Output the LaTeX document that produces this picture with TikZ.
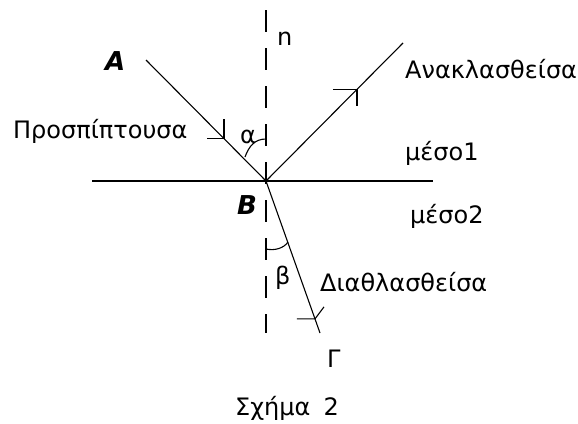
\documentclass[tikz,border=0pt]{standalone}
\usepackage{fontspec}
\setmainfont{DejaVu Sans}
\usetikzlibrary{calc}
\begin{document}
\begin{tikzpicture}[x=1pt,y=-1pt,
  lbl/.style={anchor=base west, inner sep=0pt, font=\fontsize{24}{28}\selectfont},
  ptlbl/.style={anchor=base west, inner sep=0pt, font=\fontsize{26}{30}\selectfont\bfseries\itshape},
  ray/.style={line width=1.1pt},
  head/.style={line width=1.1pt},
  normal/.style={line width=1.4pt, dash pattern=on 22pt off 16pt},
  surface/.style={line width=1.4pt}]
\useasboundingbox (0,0) rectangle (578,423);
% points
\coordinate (N1) at (266,10);
\coordinate (N2) at (266,333);
\coordinate (S1) at (92,181);
\coordinate (S2) at (433,181);
\coordinate (A) at (146,60);
\coordinate (B) at (266,181);
\coordinate (R) at (403,43);
\coordinate (G) at (320,333);
% surface and normal
\draw[surface] (S1) -- (S2);
\draw[normal] (N1) -- (N2);
% rays
\draw[ray] (A) -- (B);
\draw[ray] (B) -- (R);
\draw[ray] (B) -- (G);
% arrow heads
\coordinate (hi) at ($(A)!0.65!(B)$);
\coordinate (hr) at ($(B)!0.664!(R)$);
\coordinate (ht) at ($(B)!0.907!(G)$);
\draw[head] ($(hi)+(-17,0)$) -- (hi) -- ($(hi)+(0,-20)$);
\draw[head] ($(hr)+(-24,0)$) -- (hr) -- ($(hr)+(0,17)$);
\draw[head] ($(ht)+(-18,0)$) -- (ht) -- ($(ht)+(9,-12)$);
% angle marks
\draw[head] (245,157) .. controls (249,146) and (255,139) .. (266,139);
\draw[head] (266,249) .. controls (275,251) and (284,248) .. (288,242);
% labels
\node[ptlbl] (lA) at (105,70) {A};
\node[ptlbl] (lB) at (237,214) {B};
\node[lbl] (ln) at (277,45) {n};
\node[lbl] (lrefl) at (405,78) {Ανακλασθείσα};
\node[lbl] (linc) at (13,138) {Προσπίπτουσα};
\node[lbl] (lm1) at (405,160) {μέσο1};
\node[lbl] (lm2) at (410,223) {μέσο2};
\node[lbl] (la) at (240,143) {α};
\node[lbl] (lb) at (275,284) {β};
\node[lbl] (ldia) at (320,291) {Διαθλασθείσα};
\node[lbl] (lG) at (327,367) {Γ};
\node[lbl] (lfig) at (235,415) {Σχήμα\hspace{0.55em}2};
\end{tikzpicture}
\end{document}
